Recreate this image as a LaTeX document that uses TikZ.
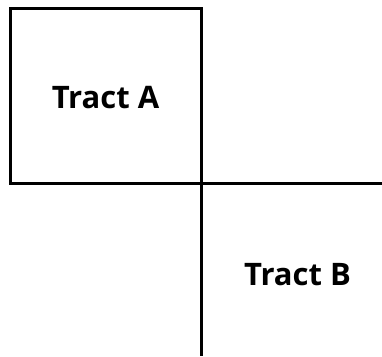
\documentclass[tikz,border=0pt]{standalone}
\usepackage{fontspec}
\setsansfont{Open Sans}
\usepackage{tikz}
\usetikzlibrary{positioning, calc}

\tikzset{
	lot/.style={line width=3pt, draw=black},
	tractlabel/.style={font=\sffamily\bfseries\fontsize{31}{36}\selectfont, inner sep=0pt}
}

\begin{document}
\begin{tikzpicture}[x=1pt, y=-1pt]
		\useasboundingbox (0, 0) rectangle (382, 356);
		% corner where the two lots meet
		\coordinate (corner) at (201, 183.5);
		\coordinate (nwA) at (10, 8.5);
		\coordinate (eastend) at (382, 183.5);
		\coordinate (southend) at (201, 356);
		\draw[lot] (corner) |- (nwA) |- (corner);
		\draw[lot] (corner) -- (eastend);
		\draw[lot] (corner) -- (southend);
		\node[tractlabel] (tractA) at (105.5, 98) {Tract A};
		\node[tractlabel] (tractB) at (297.5, 275) {Tract B};
	\end{tikzpicture}
\end{document}
